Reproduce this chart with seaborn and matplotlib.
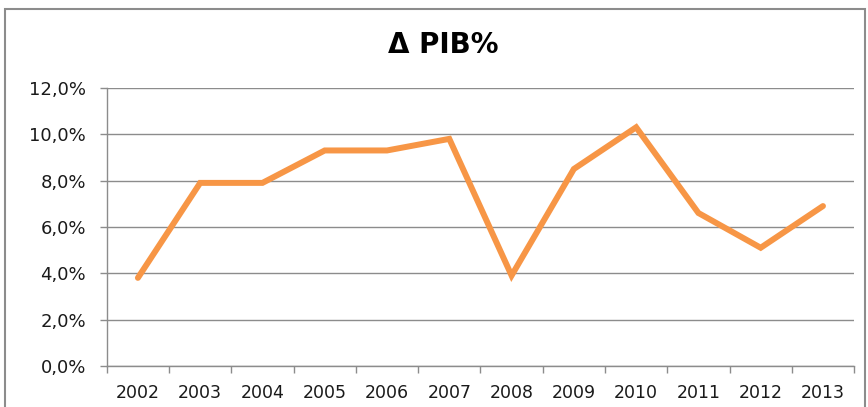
import numpy as np
import pandas as pd
import seaborn as sns
import matplotlib.pyplot as plt
from matplotlib.patches import Rectangle
from matplotlib.ticker import FuncFormatter, FixedLocator

years = ["2002", "2003", "2004", "2005", "2006", "2007",
         "2008", "2009", "2010", "2011", "2012", "2013"]
pib = [3.8, 7.9, 7.9, 9.3, 9.3, 9.8, 3.9, 8.5, 10.3, 6.6, 5.1, 6.9]

df = pd.DataFrame({"pos": np.arange(len(years)), "pib": pib})

sns.set_style("white")
plt.rcParams["font.family"] = ["DejaVu Sans"]

fig = plt.figure(figsize=(8.68, 4.07), dpi=100)
ax = fig.add_axes([0.123, 0.101, 0.861, 0.683])

sns.lineplot(data=df, x="pos", y="pib", ax=ax, color="#F79646",
             linewidth=4.3, solid_capstyle="round", solid_joinstyle="miter")

ax.set_ylim(0, 12)
ax.set_xlim(-0.5, len(years) - 0.5)
ax.set_yticks(np.arange(0, 12.1, 2))
ax.yaxis.set_major_formatter(FuncFormatter(lambda v, p: f"{v:.1f}%".replace(".", ",")))
ax.yaxis.grid(True, color="#8c8c8c", linewidth=1)
ax.set_axisbelow(True)

ax.set_xticks(df["pos"])
ax.set_xticklabels(years)
ax.xaxis.set_minor_locator(FixedLocator(np.arange(-0.5, len(years), 1)))
ax.tick_params(axis="x", which="major", length=0, pad=13, labelsize=12.5, colors="#1a1a1a")
ax.tick_params(axis="x", which="minor", length=5, width=1, color="#8c8c8c", direction="out", bottom=True)
ax.tick_params(axis="y", which="major", length=5, width=1, color="#8c8c8c", direction="out",
               left=True, labelsize=13, labelcolor="#1a1a1a", pad=10)

ax.set_xlabel("")
ax.set_ylabel("")
for s in ["top", "right"]:
    ax.spines[s].set_visible(False)
for s in ["left", "bottom"]:
    ax.spines[s].set_color("#8c8c8c")
    ax.spines[s].set_linewidth(1)

fig.text(443 / 868, 1 - 45 / 407, "Δ PIB%", ha="center", va="center",
         fontsize=20, fontweight="bold", color="black")

frame = Rectangle((5 / 868, -0.02), 860 / 868, 1 - 9 / 407 + 0.02,
                  transform=fig.transFigure, fill=False, edgecolor="#8c8c8c",
                  linewidth=1.5, clip_on=False)
fig.add_artist(frame)

fig.savefig("out.png", dpi=100)
plt.close(fig)
